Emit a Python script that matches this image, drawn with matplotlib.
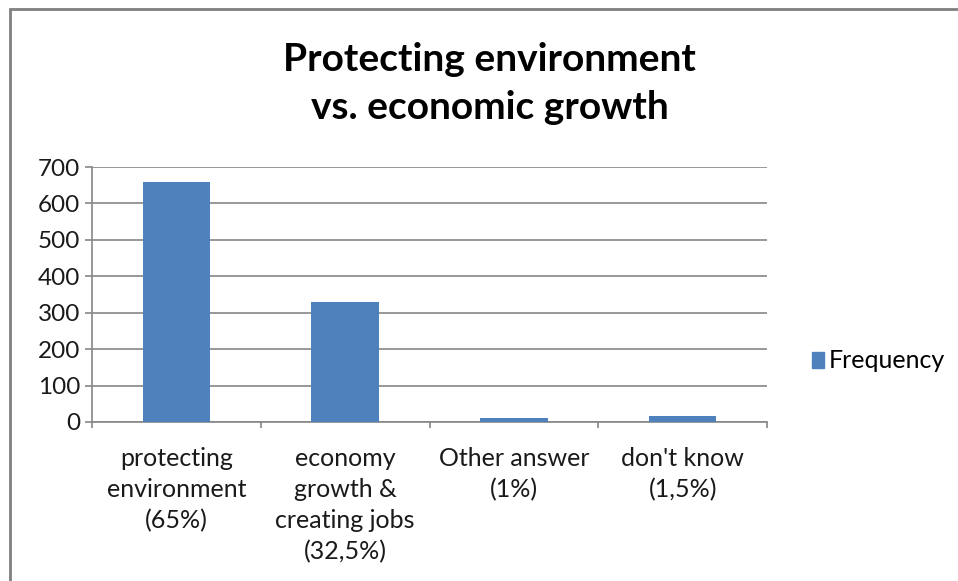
import numpy as np
import matplotlib.pyplot as plt
from matplotlib.patches import Rectangle, Patch

# Data
categories = ["protecting\nenvironment\n(65%)",
              "economy\ngrowth &\ncreating jobs\n(32,5%)",
              "Other answer\n(1%)",
              "don't know\n(1,5%)"]
frequency = [660, 330, 12, 16]
y_ticks = [0, 100, 200, 300, 400, 500, 600, 700]

bar_color = "#4f81bd"
grid_color = "#868686"
font = ["Lato", "DejaVu Sans"]

plt.rcParams['font.family'] = font

fig = plt.figure(figsize=(9.58, 5.81), dpi=100)
ax = fig.add_axes([92 / 958, 1 - 422 / 581, (767 - 92) / 958, (422 - 167) / 581])

x = np.arange(len(categories))
ax.bar(x, frequency, width=0.4, color=bar_color, zorder=3)

ax.set_xlim(-0.5, len(categories) - 0.5)
ax.set_ylim(0, 700)
ax.set_yticks(y_ticks)
ax.set_yticklabels([str(v) for v in y_ticks], fontsize=17.5, color="#1a1a1a")
ax.yaxis.grid(True, color=grid_color, linewidth=1.2, zorder=0)

# category labels between boundary ticks
ax.set_xticks(x)
ax.set_xticklabels(categories, fontsize=18, color="#1a1a1a", linespacing=1.42)
ax.tick_params(axis="x", length=0, pad=18)
ax.set_xticks(np.arange(len(categories) + 1) - 0.5, minor=True)
ax.tick_params(axis="x", which="minor", length=4, color=grid_color, width=1.2)
ax.tick_params(axis="y", length=5, color=grid_color, width=1.2, pad=3.5)

for side in ["top", "right"]:
    ax.spines[side].set_visible(False)
for side in ["left", "bottom"]:
    ax.spines[side].set_color(grid_color)
    ax.spines[side].set_linewidth(1.2)

fig.text(0.511, 0.857, "Protecting environment\nvs. economic growth",
         ha="center", va="center", fontsize=28, fontweight="bold",
         linespacing=1.45, color="black")

leg = fig.legend(handles=[Patch(color=bar_color, label="Frequency")],
                 loc="center left", bbox_to_anchor=(789 / 958, 1 - 361 / 581),
                 frameon=False, fontsize=18, handlelength=0.5, handleheight=0.6,
                 handletextpad=0.2)

# outer chart border
fig.patches.append(Rectangle((9.5 / 958, -0.1), 1.2, 0.1 + 1 - 9.5 / 581,
                             transform=fig.transFigure, fill=False,
                             edgecolor="#808080", linewidth=2))

fig.savefig("out.png", dpi=100)
